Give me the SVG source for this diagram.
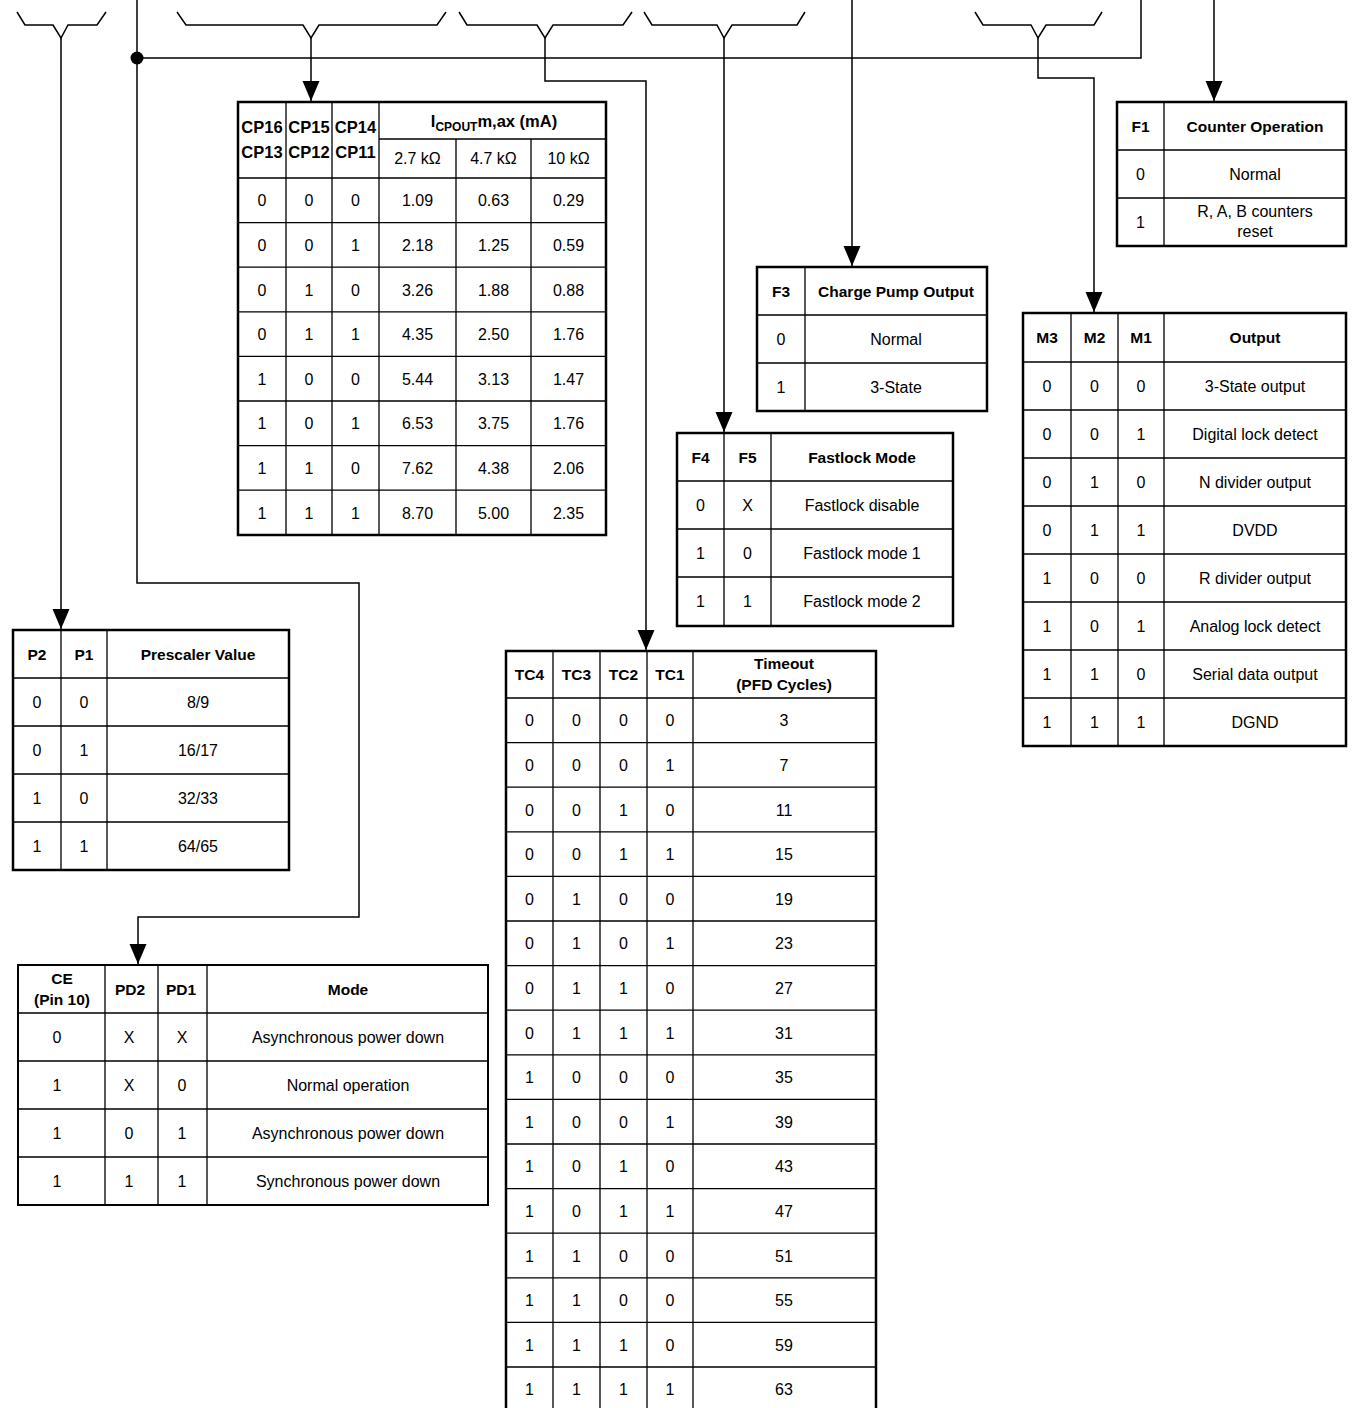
<svg xmlns="http://www.w3.org/2000/svg" width="1353" height="1408" viewBox="0 0 1353 1408">
<style>
text{font-family:"Liberation Sans",Arial,Helvetica,sans-serif;font-size:16px;fill:#000;text-anchor:middle}
.b{font-weight:bold;font-size:15.5px}
.cp{font-size:16.5px}
.outer{fill:none;stroke:#000;stroke-width:2.5}
.g{stroke:#000;stroke-width:1.3;fill:none}
.w{stroke:#000;stroke-width:1.5;fill:none}
</style>
<defs>
<marker id="arr" markerUnits="userSpaceOnUse" markerWidth="20" markerHeight="18" refX="20" refY="8.5" orient="auto" viewBox="0 0 20 17">
<path d="M0,0 L20,8.5 L0,17 z" fill="#000"/>
</marker>
</defs>
<rect width="1353" height="1408" fill="#fff"/>

<g id="connectors">
<polyline class="w" points="17,12 25,25 53,25 61,38 68,25 97,25 106,12"/>
<polyline class="w" points="177,12 186,25 303,25 311,38 319,25 437,25 446,12"/>
<polyline class="w" points="459,12 467,25 537,25 545,38 553,25 623,25 632,12"/>
<polyline class="w" points="644,12 652,25 717,25 724,38 732,25 797,25 805,12"/>
<polyline class="w" points="975,12 983,25 1031,25 1038,38 1046,25 1094,25 1102,12"/>
<path class="w" d="M61,38 V629" marker-end="url(#arr)"/>
<path class="w" d="M137,0 V583 H359 V917 H138 V964" marker-end="url(#arr)"/>
<circle cx="137" cy="58" r="6.5" fill="#000"/>
<path class="w" d="M137,58 H1141 V0"/>
<path class="w" d="M311,38 V101" marker-end="url(#arr)"/>
<path class="w" d="M545,38 V81 H646 V650" marker-end="url(#arr)"/>
<path class="w" d="M724,38 V432" marker-end="url(#arr)"/>
<path class="w" d="M852,0 V266" marker-end="url(#arr)"/>
<path class="w" d="M1038,38 V78 H1094 V312" marker-end="url(#arr)"/>
<path class="w" d="M1214,0 V101" marker-end="url(#arr)"/>
</g>

<g id="tbl-cp">
<path class="g" d="M286,102V535M332,102V535M379,102V535M456,139V535M531,139V535M379,139H606M238,178H606M238,222.6H606M238,267.2H606M238,311.8H606M238,356.4H606M238,401H606M238,445.6H606M238,490.2H606"/>
<rect class="outer" x="238" y="102" width="368" height="433"/>
<text class="b cp" x="262" y="133">CP16</text><text class="b cp" x="309" y="133">CP15</text><text class="b cp" x="355.5" y="133">CP14</text>
<text class="b cp" x="262" y="158">CP13</text><text class="b cp" x="309" y="158">CP12</text><text class="b cp" x="355.5" y="158">CP11</text>
<text class="b cp" x="494" y="127">I<tspan font-size="12" dy="4">CPOUT</tspan><tspan dy="-4">m,ax (mA)</tspan></text>
<text x="417.5" y="164">2.7 kΩ</text><text x="493.5" y="164">4.7 kΩ</text><text x="568.5" y="164">10 kΩ</text>
<g>
<text x="262" y="206.3">0</text><text x="309" y="206.3">0</text><text x="355.5" y="206.3">0</text><text x="417.5" y="206.3">1.09</text><text x="493.5" y="206.3">0.63</text><text x="568.5" y="206.3">0.29</text>
<text x="262" y="250.9">0</text><text x="309" y="250.9">0</text><text x="355.5" y="250.9">1</text><text x="417.5" y="250.9">2.18</text><text x="493.5" y="250.9">1.25</text><text x="568.5" y="250.9">0.59</text>
<text x="262" y="295.5">0</text><text x="309" y="295.5">1</text><text x="355.5" y="295.5">0</text><text x="417.5" y="295.5">3.26</text><text x="493.5" y="295.5">1.88</text><text x="568.5" y="295.5">0.88</text>
<text x="262" y="340.1">0</text><text x="309" y="340.1">1</text><text x="355.5" y="340.1">1</text><text x="417.5" y="340.1">4.35</text><text x="493.5" y="340.1">2.50</text><text x="568.5" y="340.1">1.76</text>
<text x="262" y="384.7">1</text><text x="309" y="384.7">0</text><text x="355.5" y="384.7">0</text><text x="417.5" y="384.7">5.44</text><text x="493.5" y="384.7">3.13</text><text x="568.5" y="384.7">1.47</text>
<text x="262" y="429.3">1</text><text x="309" y="429.3">0</text><text x="355.5" y="429.3">1</text><text x="417.5" y="429.3">6.53</text><text x="493.5" y="429.3">3.75</text><text x="568.5" y="429.3">1.76</text>
<text x="262" y="473.9">1</text><text x="309" y="473.9">1</text><text x="355.5" y="473.9">0</text><text x="417.5" y="473.9">7.62</text><text x="493.5" y="473.9">4.38</text><text x="568.5" y="473.9">2.06</text>
<text x="262" y="518.5">1</text><text x="309" y="518.5">1</text><text x="355.5" y="518.5">1</text><text x="417.5" y="518.5">8.70</text><text x="493.5" y="518.5">5.00</text><text x="568.5" y="518.5">2.35</text>
</g>
</g>

<g id="tbl-prescaler">
<path class="g" d="M61,630V870M107,630V870M13,678H289M13,726H289M13,774H289M13,822H289"/>
<rect class="outer" x="13" y="630" width="276" height="240"/>
<text class="b" x="37" y="660">P2</text><text class="b" x="84" y="660">P1</text><text class="b" x="198" y="660">Prescaler Value</text>
<text x="37" y="708">0</text><text x="84" y="708">0</text><text x="198" y="708">8/9</text>
<text x="37" y="756">0</text><text x="84" y="756">1</text><text x="198" y="756">16/17</text>
<text x="37" y="804">1</text><text x="84" y="804">0</text><text x="198" y="804">32/33</text>
<text x="37" y="852">1</text><text x="84" y="852">1</text><text x="198" y="852">64/65</text>
</g>

<g id="tbl-powerdown">
<path class="g" d="M105,965V1205M158,965V1205M207,965V1205M18,1013H488M18,1061H488M18,1109H488M18,1157H488"/>
<rect class="outer" x="18" y="965" width="470" height="240" style="stroke-width:2"/>
<text class="b" x="62" y="984">CE</text><text class="b" x="62" y="1005">(Pin 10)</text>
<text class="b" x="130" y="995">PD2</text><text class="b" x="181" y="995">PD1</text><text class="b" x="348" y="995">Mode</text>
<text x="57" y="1043">0</text><text x="129" y="1043">X</text><text x="182" y="1043">X</text><text x="348" y="1043">Asynchronous power down</text>
<text x="57" y="1091">1</text><text x="129" y="1091">X</text><text x="182" y="1091">0</text><text x="348" y="1091">Normal operation</text>
<text x="57" y="1139">1</text><text x="129" y="1139">0</text><text x="182" y="1139">1</text><text x="348" y="1139">Asynchronous power down</text>
<text x="57" y="1187">1</text><text x="129" y="1187">1</text><text x="182" y="1187">1</text><text x="348" y="1187">Synchronous power down</text>
</g>

<g id="tbl-timeout">
<path class="g" d="M553,651V1413M600,651V1413M647,651V1413M693,651V1413M506,698H876M506,742.6H876M506,787.2H876M506,831.8H876M506,876.4H876M506,921H876M506,965.6H876M506,1010.2H876M506,1054.8H876M506,1099.4H876M506,1144H876M506,1188.6H876M506,1233.2H876M506,1277.8H876M506,1322.4H876M506,1367H876"/>
<rect class="outer" x="506" y="651" width="370" height="762"/>
<text class="b" x="529.5" y="680">TC4</text><text class="b" x="576.5" y="680">TC3</text><text class="b" x="623.5" y="680">TC2</text><text class="b" x="670" y="680">TC1</text>
<text class="b" x="784" y="669">Timeout</text><text class="b" x="784" y="690">(PFD Cycles)</text>
<text x="529.5" y="726.3">0</text><text x="576.5" y="726.3">0</text><text x="623.5" y="726.3">0</text><text x="670" y="726.3">0</text><text x="784" y="726.3">3</text>
<text x="529.5" y="770.9">0</text><text x="576.5" y="770.9">0</text><text x="623.5" y="770.9">0</text><text x="670" y="770.9">1</text><text x="784" y="770.9">7</text>
<text x="529.5" y="815.5">0</text><text x="576.5" y="815.5">0</text><text x="623.5" y="815.5">1</text><text x="670" y="815.5">0</text><text x="784" y="815.5">11</text>
<text x="529.5" y="860.1">0</text><text x="576.5" y="860.1">0</text><text x="623.5" y="860.1">1</text><text x="670" y="860.1">1</text><text x="784" y="860.1">15</text>
<text x="529.5" y="904.7">0</text><text x="576.5" y="904.7">1</text><text x="623.5" y="904.7">0</text><text x="670" y="904.7">0</text><text x="784" y="904.7">19</text>
<text x="529.5" y="949.3">0</text><text x="576.5" y="949.3">1</text><text x="623.5" y="949.3">0</text><text x="670" y="949.3">1</text><text x="784" y="949.3">23</text>
<text x="529.5" y="993.9">0</text><text x="576.5" y="993.9">1</text><text x="623.5" y="993.9">1</text><text x="670" y="993.9">0</text><text x="784" y="993.9">27</text>
<text x="529.5" y="1038.5">0</text><text x="576.5" y="1038.5">1</text><text x="623.5" y="1038.5">1</text><text x="670" y="1038.5">1</text><text x="784" y="1038.5">31</text>
<text x="529.5" y="1083.1">1</text><text x="576.5" y="1083.1">0</text><text x="623.5" y="1083.1">0</text><text x="670" y="1083.1">0</text><text x="784" y="1083.1">35</text>
<text x="529.5" y="1127.7">1</text><text x="576.5" y="1127.7">0</text><text x="623.5" y="1127.7">0</text><text x="670" y="1127.7">1</text><text x="784" y="1127.7">39</text>
<text x="529.5" y="1172.3">1</text><text x="576.5" y="1172.3">0</text><text x="623.5" y="1172.3">1</text><text x="670" y="1172.3">0</text><text x="784" y="1172.3">43</text>
<text x="529.5" y="1216.9">1</text><text x="576.5" y="1216.9">0</text><text x="623.5" y="1216.9">1</text><text x="670" y="1216.9">1</text><text x="784" y="1216.9">47</text>
<text x="529.5" y="1261.5">1</text><text x="576.5" y="1261.5">1</text><text x="623.5" y="1261.5">0</text><text x="670" y="1261.5">0</text><text x="784" y="1261.5">51</text>
<text x="529.5" y="1306.1">1</text><text x="576.5" y="1306.1">1</text><text x="623.5" y="1306.1">0</text><text x="670" y="1306.1">0</text><text x="784" y="1306.1">55</text>
<text x="529.5" y="1350.7">1</text><text x="576.5" y="1350.7">1</text><text x="623.5" y="1350.7">1</text><text x="670" y="1350.7">0</text><text x="784" y="1350.7">59</text>
<text x="529.5" y="1395.3">1</text><text x="576.5" y="1395.3">1</text><text x="623.5" y="1395.3">1</text><text x="670" y="1395.3">1</text><text x="784" y="1395.3">63</text>
</g>

<g id="tbl-chargepump">
<path class="g" d="M805,267V411M757,315H987M757,363H987"/>
<rect class="outer" x="757" y="267" width="230" height="144"/>
<text class="b" x="781" y="297">F3</text><text class="b" x="896" y="297">Charge Pump Output</text>
<text x="781" y="345">0</text><text x="896" y="345">Normal</text>
<text x="781" y="393">1</text><text x="896" y="393">3-State</text>
</g>

<g id="tbl-fastlock">
<path class="g" d="M724,433V626M771,433V626M677,481H953M677,529H953M677,577H953"/>
<rect class="outer" x="677" y="433" width="276" height="193"/>
<text class="b" x="700.5" y="463">F4</text><text class="b" x="747.5" y="463">F5</text><text class="b" x="862" y="463">Fastlock Mode</text>
<text x="700.5" y="511">0</text><text x="747.5" y="511">X</text><text x="862" y="511">Fastlock disable</text>
<text x="700.5" y="559">1</text><text x="747.5" y="559">0</text><text x="862" y="559">Fastlock mode 1</text>
<text x="700.5" y="607">1</text><text x="747.5" y="607">1</text><text x="862" y="607">Fastlock mode 2</text>
</g>

<g id="tbl-counter">
<path class="g" d="M1164,102V246M1117,150H1346M1117,198H1346"/>
<rect class="outer" x="1117" y="102" width="229" height="144"/>
<text class="b" x="1140.5" y="132">F1</text><text class="b" x="1255" y="132">Counter Operation</text>
<text x="1140.5" y="180">0</text><text x="1255" y="180">Normal</text>
<text x="1140.5" y="228">1</text><text x="1255" y="217">R, A, B counters</text><text x="1255" y="237">reset</text>
</g>

<g id="tbl-muxout">
<path class="g" d="M1071,313V746M1118,313V746M1164,313V746M1023,362H1346M1023,410H1346M1023,458H1346M1023,506H1346M1023,554H1346M1023,602H1346M1023,650H1346M1023,698H1346"/>
<rect class="outer" x="1023" y="313" width="323" height="433"/>
<text class="b" x="1047" y="343">M3</text><text class="b" x="1094.5" y="343">M2</text><text class="b" x="1141" y="343">M1</text><text class="b" x="1255" y="343">Output</text>
<text x="1047" y="392">0</text><text x="1094.5" y="392">0</text><text x="1141" y="392">0</text><text x="1255" y="392">3-State output</text>
<text x="1047" y="440">0</text><text x="1094.5" y="440">0</text><text x="1141" y="440">1</text><text x="1255" y="440">Digital lock detect</text>
<text x="1047" y="488">0</text><text x="1094.5" y="488">1</text><text x="1141" y="488">0</text><text x="1255" y="488">N divider output</text>
<text x="1047" y="536">0</text><text x="1094.5" y="536">1</text><text x="1141" y="536">1</text><text x="1255" y="536">DVDD</text>
<text x="1047" y="584">1</text><text x="1094.5" y="584">0</text><text x="1141" y="584">0</text><text x="1255" y="584">R divider output</text>
<text x="1047" y="632">1</text><text x="1094.5" y="632">0</text><text x="1141" y="632">1</text><text x="1255" y="632">Analog lock detect</text>
<text x="1047" y="680">1</text><text x="1094.5" y="680">1</text><text x="1141" y="680">0</text><text x="1255" y="680">Serial data output</text>
<text x="1047" y="728">1</text><text x="1094.5" y="728">1</text><text x="1141" y="728">1</text><text x="1255" y="728">DGND</text>
</g>
</svg>
